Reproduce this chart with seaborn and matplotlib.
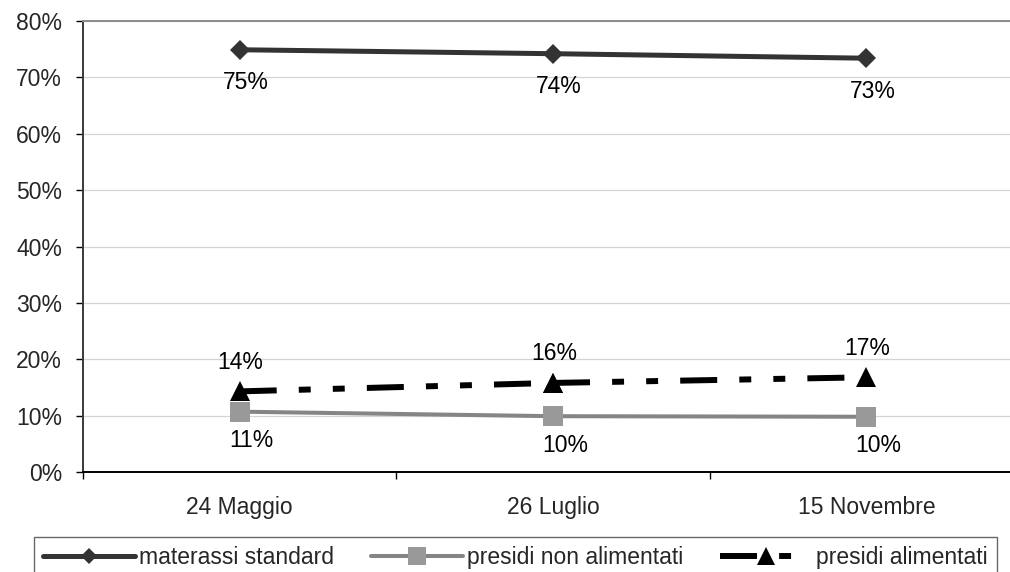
import numpy as np
import matplotlib
matplotlib.use("Agg")
import matplotlib.pyplot as plt
from matplotlib.ticker import FixedLocator, FuncFormatter
import seaborn as sns

# Survey dates and share of each mattress/support type (%)
dates = ["24 Maggio", "26 Luglio", "15 Novembre"]
materassi_standard = [74.9, 74.2, 73.4]
presidi_non_alimentati = [10.7, 9.9, 9.8]
presidi_alimentati = [14.3, 15.8, 16.8]

series_names = ["materassi standard", "presidi non alimentati", "presidi alimentati"]
y_ticks = [0, 10, 20, 30, 40, 50, 60, 70, 80]

sns.set_style("white")
plt.rcParams["font.family"] = ["Liberation Sans", "DejaVu Sans"]
FS = 16.5

fig = plt.figure(figsize=(10.1, 5.72), dpi=100)
ax = fig.add_axes([83 / 1010, 100 / 572, 940 / 1010, 451 / 572])

pos = np.arange(len(dates))

# materassi standard: dark line, diamonds
sns.lineplot(x=pos, y=materassi_standard, ax=ax, color="#333333", lw=3.6,
             marker="D", markersize=10, markeredgewidth=0, markeredgecolor="#333333",
             label=series_names[0], legend=False, zorder=3)

# presidi non alimentati: grey line, squares
sns.lineplot(x=pos, y=presidi_non_alimentati, ax=ax, color="#858585", lw=2.9,
             marker="s", markersize=15, markeredgewidth=0, markerfacecolor="#999999",
             markeredgecolor="#999999", label=series_names[1], legend=False, zorder=3)

# presidi alimentati: black dash-dot-dot line, triangles; each segment restarts the dash pattern
dash = (0, (6.2, 3.7, 2.0, 3.7, 2.0, 3.7))
for i in range(len(pos) - 1):
    sns.lineplot(x=pos[i:i + 2], y=presidi_alimentati[i:i + 2], ax=ax, color="black",
                 lw=4.3, linestyle=dash, dash_capstyle="butt",
                 marker="^", markersize=15, markeredgewidth=0, markeredgecolor="black",
                 label=series_names[2] if i == 0 else "_nolegend_", legend=False, zorder=4)

# value labels
PX = 72 / 100  # pixels -> points
for x, v in zip(pos, materassi_standard):
    ax.annotate(f"{v:.0f}%", (x, v), xytext=(6 * PX, -33 * PX), textcoords="offset points",
                ha="center", va="center", fontsize=FS, color="black")
for x, v in zip(pos, presidi_non_alimentati):
    ax.annotate(f"{v:.0f}%", (x, v), xytext=(12 * PX, -29 * PX), textcoords="offset points",
                ha="center", va="center", fontsize=FS, color="black")
for x, v in zip(pos, presidi_alimentati):
    ax.annotate(f"{v:.0f}%", (x, v), xytext=(1 * PX, 29 * PX), textcoords="offset points",
                ha="center", va="center", fontsize=FS, color="black")

# axes
ax.set_xlim(-0.5, len(dates) - 0.5)
ax.set_ylim(0, 80)
ax.set_xlabel("")
ax.set_ylabel("")

ax.set_xticks(pos)
ax.set_xticklabels(dates, fontsize=FS)
ax.xaxis.set_minor_locator(FixedLocator(np.arange(len(dates) + 1) - 0.5))
ax.tick_params(axis="x", which="major", length=0, pad=17)
ax.tick_params(axis="x", which="minor", direction="out", length=5, width=1, color="black", bottom=True)

ax.yaxis.set_major_locator(FixedLocator(y_ticks))
ax.yaxis.set_major_formatter(FuncFormatter(lambda v, p: f"{v:.0f}%"))
ax.tick_params(axis="y", which="major", direction="out", length=5, width=1, color="black",
               pad=10, labelsize=FS, left=True)

ax.yaxis.grid(True, color="#d4d4d4", lw=0.9)
ax.xaxis.grid(False)
ax.set_axisbelow(True)

for side in ["left", "bottom", "top", "right"]:
    ax.spines[side].set_visible(True)
ax.spines["left"].set_color("#3a3a3a")
ax.spines["left"].set_linewidth(1.4)
ax.spines["bottom"].set_color("black")
ax.spines["bottom"].set_linewidth(1.4)
ax.spines["top"].set_color("#8a8a8a")
ax.spines["top"].set_linewidth(1.4)
ax.spines["right"].set_color("#8a8a8a")

# legend across the bottom
handles, labels = ax.get_legend_handles_labels()
leg = fig.legend(handles, labels, loc="upper left",
                 bbox_to_anchor=(34 / 1010, 0, 963 / 1010, 1 - 537 / 572),
                 bbox_transform=fig.transFigure, mode="expand", ncol=3,
                 borderaxespad=0, fontsize=FS, handlelength=4.0, handletextpad=0.2,
                 markerscale=0.85, frameon=True, fancybox=False, borderpad=0.4,
                 columnspacing=0.4)
leg.get_frame().set_edgecolor("#444444")
leg.get_frame().set_linewidth(1.0)

fig.savefig("out.png", dpi=100, facecolor="white")
